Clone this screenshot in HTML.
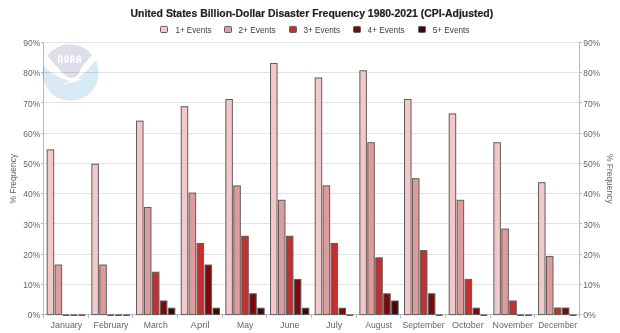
<!DOCTYPE html>
<html><head><meta charset="utf-8">
<style>
html,body{margin:0;padding:0;background:#fff;}
body{width:620px;height:333px;overflow:hidden;}
svg{display:block;font-family:"Liberation Sans",sans-serif;}
</style></head><body>
<svg width="620" height="333" viewBox="0 0 620 333">
<rect x="0" y="0" width="620" height="333" fill="#fff"/>
<line x1="43.5" y1="284.5" x2="579.5" y2="284.5" stroke="#e3e3e3" stroke-width="1"/>
<line x1="43.5" y1="254.5" x2="579.5" y2="254.5" stroke="#e3e3e3" stroke-width="1"/>
<line x1="43.5" y1="223.5" x2="579.5" y2="223.5" stroke="#e3e3e3" stroke-width="1"/>
<line x1="43.5" y1="193.5" x2="579.5" y2="193.5" stroke="#e3e3e3" stroke-width="1"/>
<line x1="43.5" y1="163.5" x2="579.5" y2="163.5" stroke="#e3e3e3" stroke-width="1"/>
<line x1="43.5" y1="133.5" x2="579.5" y2="133.5" stroke="#e3e3e3" stroke-width="1"/>
<line x1="43.5" y1="102.5" x2="579.5" y2="102.5" stroke="#e3e3e3" stroke-width="1"/>
<line x1="43.5" y1="72.5" x2="579.5" y2="72.5" stroke="#e3e3e3" stroke-width="1"/>
<line x1="43.5" y1="42.5" x2="579.5" y2="42.5" stroke="#e3e3e3" stroke-width="1"/>
<line x1="43.5" y1="42.5" x2="43.5" y2="317.5" stroke="#b9b9b9" stroke-width="1"/>
<line x1="579.5" y1="42.5" x2="579.5" y2="314.5" stroke="#b9b9b9" stroke-width="1"/>
<line x1="43.5" y1="314.5" x2="579.5" y2="314.5" stroke="#b9b9b9" stroke-width="1"/>
<line x1="41" y1="314.5" x2="43.5" y2="314.5" stroke="#b9b9b9" stroke-width="1"/>
<line x1="579.5" y1="314.5" x2="582" y2="314.5" stroke="#b9b9b9" stroke-width="1"/>
<line x1="41" y1="284.5" x2="43.5" y2="284.5" stroke="#b9b9b9" stroke-width="1"/>
<line x1="579.5" y1="284.5" x2="582" y2="284.5" stroke="#b9b9b9" stroke-width="1"/>
<line x1="41" y1="254.5" x2="43.5" y2="254.5" stroke="#b9b9b9" stroke-width="1"/>
<line x1="579.5" y1="254.5" x2="582" y2="254.5" stroke="#b9b9b9" stroke-width="1"/>
<line x1="41" y1="223.5" x2="43.5" y2="223.5" stroke="#b9b9b9" stroke-width="1"/>
<line x1="579.5" y1="223.5" x2="582" y2="223.5" stroke="#b9b9b9" stroke-width="1"/>
<line x1="41" y1="193.5" x2="43.5" y2="193.5" stroke="#b9b9b9" stroke-width="1"/>
<line x1="579.5" y1="193.5" x2="582" y2="193.5" stroke="#b9b9b9" stroke-width="1"/>
<line x1="41" y1="163.5" x2="43.5" y2="163.5" stroke="#b9b9b9" stroke-width="1"/>
<line x1="579.5" y1="163.5" x2="582" y2="163.5" stroke="#b9b9b9" stroke-width="1"/>
<line x1="41" y1="133.5" x2="43.5" y2="133.5" stroke="#b9b9b9" stroke-width="1"/>
<line x1="579.5" y1="133.5" x2="582" y2="133.5" stroke="#b9b9b9" stroke-width="1"/>
<line x1="41" y1="102.5" x2="43.5" y2="102.5" stroke="#b9b9b9" stroke-width="1"/>
<line x1="579.5" y1="102.5" x2="582" y2="102.5" stroke="#b9b9b9" stroke-width="1"/>
<line x1="41" y1="72.5" x2="43.5" y2="72.5" stroke="#b9b9b9" stroke-width="1"/>
<line x1="579.5" y1="72.5" x2="582" y2="72.5" stroke="#b9b9b9" stroke-width="1"/>
<line x1="41" y1="42.5" x2="43.5" y2="42.5" stroke="#b9b9b9" stroke-width="1"/>
<line x1="579.5" y1="42.5" x2="582" y2="42.5" stroke="#b9b9b9" stroke-width="1"/>
<line x1="43.5" y1="314.5" x2="43.5" y2="318" stroke="#b9b9b9" stroke-width="1"/>
<line x1="88.5" y1="314.5" x2="88.5" y2="318" stroke="#b9b9b9" stroke-width="1"/>
<line x1="132.5" y1="314.5" x2="132.5" y2="318" stroke="#b9b9b9" stroke-width="1"/>
<line x1="177.5" y1="314.5" x2="177.5" y2="318" stroke="#b9b9b9" stroke-width="1"/>
<line x1="222.5" y1="314.5" x2="222.5" y2="318" stroke="#b9b9b9" stroke-width="1"/>
<line x1="266.5" y1="314.5" x2="266.5" y2="318" stroke="#b9b9b9" stroke-width="1"/>
<line x1="311.5" y1="314.5" x2="311.5" y2="318" stroke="#b9b9b9" stroke-width="1"/>
<line x1="356.5" y1="314.5" x2="356.5" y2="318" stroke="#b9b9b9" stroke-width="1"/>
<line x1="400.5" y1="314.5" x2="400.5" y2="318" stroke="#b9b9b9" stroke-width="1"/>
<line x1="445.5" y1="314.5" x2="445.5" y2="318" stroke="#b9b9b9" stroke-width="1"/>
<line x1="490.5" y1="314.5" x2="490.5" y2="318" stroke="#b9b9b9" stroke-width="1"/>
<line x1="534.5" y1="314.5" x2="534.5" y2="318" stroke="#b9b9b9" stroke-width="1"/>
<line x1="579.5" y1="314.5" x2="579.5" y2="318" stroke="#b9b9b9" stroke-width="1"/>
<defs><clipPath id="lc"><circle cx="70.6" cy="72.9" r="28.1"/></clipPath></defs>
<g id="logo" style="mix-blend-mode:multiply">
<path clip-path="url(#lc)" fill="#d7eaf6" d="M20,64.4 L42.8,64.4 C46,68 49,71 53,73.8 C58,77 64,79.5 69.8,81.1 C67,82.3 64,83.5 61.4,84.4 C72,83 78,80.5 82.6,79 C81,78.6 79,78.5 77.2,78.5 C80,75.5 82,74.5 84.9,72.2 C88,69.5 90,66.5 91.6,65 C93,63.5 94.5,62 95.7,61 L120,61 L120,120 L20,120 Z"/>
<path fill="#dcdee9" d="M47.2,55.8 A28.1,28.1 0 0 1 92.2,55.3 C88.5,59 84,63.5 82.2,66.8 C80.5,70 79.5,72.5 78,74.5 C76.5,76.7 74.5,78 71.3,78 C68,78 65,75.5 61.5,72 C57.5,67.5 51,60 47.2,55.8 Z"/>
<g fill="none" stroke="#fff" stroke-width="1.5">
<path d="M58.8,62.9 V57.4 Q58.8,56 60.3,56 Q61.8,56 61.8,57.4 V62.9"/>
<rect x="65.1" y="56" width="2.8" height="6" rx="1"/>
<path d="M70.9,62.9 V57.4 Q70.9,56 72.4,56 Q73.9,56 73.9,57.4 V62.9 M70.9,59.8 H73.9"/>
<path d="M77.2,62.9 V57.4 Q77.2,56 78.7,56 Q80.2,56 80.2,57.4 V62.9 M77.2,59.8 H80.2"/>
</g>
</g>
<rect x="47.20" y="149.90" width="6.50" height="164.70" fill="#f2c8c9" stroke="#5e5e5e" stroke-width="1"/>
<rect x="55.15" y="265.03" width="6.50" height="49.57" fill="#df9a9b" stroke="#5e5e5e" stroke-width="1"/>
<rect x="91.87" y="164.29" width="6.50" height="150.31" fill="#f2c8c9" stroke="#5e5e5e" stroke-width="1"/>
<rect x="99.82" y="265.03" width="6.50" height="49.57" fill="#df9a9b" stroke="#5e5e5e" stroke-width="1"/>
<rect x="136.53" y="121.12" width="6.50" height="193.48" fill="#f2c8c9" stroke="#5e5e5e" stroke-width="1"/>
<rect x="144.48" y="207.46" width="6.50" height="107.14" fill="#df9a9b" stroke="#5e5e5e" stroke-width="1"/>
<rect x="152.43" y="272.23" width="6.50" height="42.37" fill="#c3302f" stroke="#5e5e5e" stroke-width="1"/>
<rect x="160.38" y="301.01" width="6.50" height="13.59" fill="#7c0a0c" stroke="#5e5e5e" stroke-width="1"/>
<rect x="168.33" y="308.20" width="6.50" height="6.40" fill="#400708" stroke="#5e5e5e" stroke-width="1"/>
<rect x="181.20" y="106.72" width="6.50" height="207.88" fill="#f2c8c9" stroke="#5e5e5e" stroke-width="1"/>
<rect x="189.15" y="193.07" width="6.50" height="121.53" fill="#df9a9b" stroke="#5e5e5e" stroke-width="1"/>
<rect x="197.10" y="243.44" width="6.50" height="71.16" fill="#c3302f" stroke="#5e5e5e" stroke-width="1"/>
<rect x="205.05" y="265.03" width="6.50" height="49.57" fill="#7c0a0c" stroke="#5e5e5e" stroke-width="1"/>
<rect x="213.00" y="308.20" width="6.50" height="6.40" fill="#400708" stroke="#5e5e5e" stroke-width="1"/>
<rect x="225.87" y="99.53" width="6.50" height="215.07" fill="#f2c8c9" stroke="#5e5e5e" stroke-width="1"/>
<rect x="233.82" y="185.88" width="6.50" height="128.72" fill="#df9a9b" stroke="#5e5e5e" stroke-width="1"/>
<rect x="241.77" y="236.25" width="6.50" height="78.35" fill="#c3302f" stroke="#5e5e5e" stroke-width="1"/>
<rect x="249.72" y="293.81" width="6.50" height="20.79" fill="#7c0a0c" stroke="#5e5e5e" stroke-width="1"/>
<rect x="257.67" y="308.20" width="6.50" height="6.40" fill="#400708" stroke="#5e5e5e" stroke-width="1"/>
<rect x="270.53" y="63.55" width="6.50" height="251.05" fill="#f2c8c9" stroke="#5e5e5e" stroke-width="1"/>
<rect x="278.48" y="200.27" width="6.50" height="114.33" fill="#df9a9b" stroke="#5e5e5e" stroke-width="1"/>
<rect x="286.43" y="236.25" width="6.50" height="78.35" fill="#c3302f" stroke="#5e5e5e" stroke-width="1"/>
<rect x="294.38" y="279.42" width="6.50" height="35.18" fill="#7c0a0c" stroke="#5e5e5e" stroke-width="1"/>
<rect x="302.33" y="308.20" width="6.50" height="6.40" fill="#400708" stroke="#5e5e5e" stroke-width="1"/>
<rect x="315.20" y="77.94" width="6.50" height="236.66" fill="#f2c8c9" stroke="#5e5e5e" stroke-width="1"/>
<rect x="323.15" y="185.88" width="6.50" height="128.72" fill="#df9a9b" stroke="#5e5e5e" stroke-width="1"/>
<rect x="331.10" y="243.44" width="6.50" height="71.16" fill="#c3302f" stroke="#5e5e5e" stroke-width="1"/>
<rect x="339.05" y="308.20" width="6.50" height="6.40" fill="#7c0a0c" stroke="#5e5e5e" stroke-width="1"/>
<rect x="359.87" y="70.75" width="6.50" height="243.85" fill="#f2c8c9" stroke="#5e5e5e" stroke-width="1"/>
<rect x="367.82" y="142.70" width="6.50" height="171.90" fill="#df9a9b" stroke="#5e5e5e" stroke-width="1"/>
<rect x="375.77" y="257.83" width="6.50" height="56.77" fill="#c3302f" stroke="#5e5e5e" stroke-width="1"/>
<rect x="383.72" y="293.81" width="6.50" height="20.79" fill="#7c0a0c" stroke="#5e5e5e" stroke-width="1"/>
<rect x="391.67" y="301.01" width="6.50" height="13.59" fill="#400708" stroke="#5e5e5e" stroke-width="1"/>
<rect x="404.53" y="99.53" width="6.50" height="215.07" fill="#f2c8c9" stroke="#5e5e5e" stroke-width="1"/>
<rect x="412.48" y="178.68" width="6.50" height="135.92" fill="#df9a9b" stroke="#5e5e5e" stroke-width="1"/>
<rect x="420.43" y="250.64" width="6.50" height="63.96" fill="#c3302f" stroke="#5e5e5e" stroke-width="1"/>
<rect x="428.38" y="293.81" width="6.50" height="20.79" fill="#7c0a0c" stroke="#5e5e5e" stroke-width="1"/>
<rect x="449.20" y="113.92" width="6.50" height="200.68" fill="#f2c8c9" stroke="#5e5e5e" stroke-width="1"/>
<rect x="457.15" y="200.27" width="6.50" height="114.33" fill="#df9a9b" stroke="#5e5e5e" stroke-width="1"/>
<rect x="465.10" y="279.42" width="6.50" height="35.18" fill="#c3302f" stroke="#5e5e5e" stroke-width="1"/>
<rect x="473.05" y="308.20" width="6.50" height="6.40" fill="#7c0a0c" stroke="#5e5e5e" stroke-width="1"/>
<rect x="493.87" y="142.70" width="6.50" height="171.90" fill="#f2c8c9" stroke="#5e5e5e" stroke-width="1"/>
<rect x="501.82" y="229.05" width="6.50" height="85.55" fill="#df9a9b" stroke="#5e5e5e" stroke-width="1"/>
<rect x="509.77" y="301.01" width="6.50" height="13.59" fill="#c3302f" stroke="#5e5e5e" stroke-width="1"/>
<rect x="538.53" y="182.72" width="6.50" height="131.88" fill="#f2c8c9" stroke="#5e5e5e" stroke-width="1"/>
<rect x="546.48" y="256.43" width="6.50" height="58.17" fill="#df9a9b" stroke="#5e5e5e" stroke-width="1"/>
<rect x="554.43" y="308.03" width="6.50" height="6.57" fill="#c3302f" stroke="#5e5e5e" stroke-width="1"/>
<rect x="562.38" y="308.03" width="6.50" height="6.57" fill="#7c0a0c" stroke="#5e5e5e" stroke-width="1"/>
<rect x="62.60" y="314.5" width="6.70" height="1.4" fill="#4a4a4a"/>
<rect x="70.55" y="314.5" width="6.70" height="1.4" fill="#4a4a4a"/>
<rect x="78.50" y="314.5" width="6.70" height="1.4" fill="#4a4a4a"/>
<rect x="107.27" y="314.5" width="6.70" height="1.4" fill="#4a4a4a"/>
<rect x="115.22" y="314.5" width="6.70" height="1.4" fill="#4a4a4a"/>
<rect x="123.17" y="314.5" width="6.70" height="1.4" fill="#4a4a4a"/>
<rect x="346.50" y="314.5" width="6.70" height="1.4" fill="#4a4a4a"/>
<rect x="435.83" y="314.5" width="6.70" height="1.4" fill="#4a4a4a"/>
<rect x="480.50" y="314.5" width="6.70" height="1.4" fill="#4a4a4a"/>
<rect x="517.22" y="314.5" width="6.70" height="1.4" fill="#4a4a4a"/>
<rect x="525.17" y="314.5" width="6.70" height="1.4" fill="#4a4a4a"/>
<rect x="569.83" y="314.5" width="6.70" height="1.4" fill="#4a4a4a"/>
<text x="40.2" y="318.2" font-size="9" fill="#666" text-anchor="end" textLength="12.7" lengthAdjust="spacingAndGlyphs">0%</text>
<text x="583.2" y="318.2" font-size="9" fill="#666" textLength="12.7" lengthAdjust="spacingAndGlyphs">0%</text>
<text x="40.2" y="288.0" font-size="9" fill="#666" text-anchor="end" textLength="16.9" lengthAdjust="spacingAndGlyphs">10%</text>
<text x="583.2" y="288.0" font-size="9" fill="#666" textLength="16.9" lengthAdjust="spacingAndGlyphs">10%</text>
<text x="40.2" y="257.8" font-size="9" fill="#666" text-anchor="end" textLength="16.9" lengthAdjust="spacingAndGlyphs">20%</text>
<text x="583.2" y="257.8" font-size="9" fill="#666" textLength="16.9" lengthAdjust="spacingAndGlyphs">20%</text>
<text x="40.2" y="227.5" font-size="9" fill="#666" text-anchor="end" textLength="16.9" lengthAdjust="spacingAndGlyphs">30%</text>
<text x="583.2" y="227.5" font-size="9" fill="#666" textLength="16.9" lengthAdjust="spacingAndGlyphs">30%</text>
<text x="40.2" y="197.3" font-size="9" fill="#666" text-anchor="end" textLength="16.9" lengthAdjust="spacingAndGlyphs">40%</text>
<text x="583.2" y="197.3" font-size="9" fill="#666" textLength="16.9" lengthAdjust="spacingAndGlyphs">40%</text>
<text x="40.2" y="167.1" font-size="9" fill="#666" text-anchor="end" textLength="16.9" lengthAdjust="spacingAndGlyphs">50%</text>
<text x="583.2" y="167.1" font-size="9" fill="#666" textLength="16.9" lengthAdjust="spacingAndGlyphs">50%</text>
<text x="40.2" y="136.9" font-size="9" fill="#666" text-anchor="end" textLength="16.9" lengthAdjust="spacingAndGlyphs">60%</text>
<text x="583.2" y="136.9" font-size="9" fill="#666" textLength="16.9" lengthAdjust="spacingAndGlyphs">60%</text>
<text x="40.2" y="106.6" font-size="9" fill="#666" text-anchor="end" textLength="16.9" lengthAdjust="spacingAndGlyphs">70%</text>
<text x="583.2" y="106.6" font-size="9" fill="#666" textLength="16.9" lengthAdjust="spacingAndGlyphs">70%</text>
<text x="40.2" y="76.4" font-size="9" fill="#666" text-anchor="end" textLength="16.9" lengthAdjust="spacingAndGlyphs">80%</text>
<text x="583.2" y="76.4" font-size="9" fill="#666" textLength="16.9" lengthAdjust="spacingAndGlyphs">80%</text>
<text x="40.2" y="46.2" font-size="9" fill="#666" text-anchor="end" textLength="16.9" lengthAdjust="spacingAndGlyphs">90%</text>
<text x="583.2" y="46.2" font-size="9" fill="#666" textLength="16.9" lengthAdjust="spacingAndGlyphs">90%</text>
<text x="50.6" y="328.2" font-size="9" fill="#666" textLength="31.7" lengthAdjust="spacingAndGlyphs">January</text>
<text x="93.6" y="328.2" font-size="9" fill="#666" textLength="34.8" lengthAdjust="spacingAndGlyphs">February</text>
<text x="143.7" y="328.2" font-size="9" fill="#666" textLength="24.0" lengthAdjust="spacingAndGlyphs">March</text>
<text x="190.6" y="328.2" font-size="9" fill="#666" textLength="18.9" lengthAdjust="spacingAndGlyphs">April</text>
<text x="237.1" y="328.2" font-size="9" fill="#666" textLength="16.1" lengthAdjust="spacingAndGlyphs">May</text>
<text x="280.0" y="328.2" font-size="9" fill="#666" textLength="19.5" lengthAdjust="spacingAndGlyphs">June</text>
<text x="326.0" y="328.2" font-size="9" fill="#666" textLength="16.4" lengthAdjust="spacingAndGlyphs">July</text>
<text x="365.3" y="328.2" font-size="9" fill="#666" textLength="26.8" lengthAdjust="spacingAndGlyphs">August</text>
<text x="402.4" y="328.2" font-size="9" fill="#666" textLength="42.3" lengthAdjust="spacingAndGlyphs">September</text>
<text x="452.0" y="328.2" font-size="9" fill="#666" textLength="31.7" lengthAdjust="spacingAndGlyphs">October</text>
<text x="492.6" y="328.2" font-size="9" fill="#666" textLength="40.3" lengthAdjust="spacingAndGlyphs">November</text>
<text x="538.2" y="328.2" font-size="9" fill="#666" textLength="38.9" lengthAdjust="spacingAndGlyphs">December</text>
<text transform="translate(16.2,203.6) rotate(-90)" font-size="9" fill="#666" textLength="49.7" lengthAdjust="spacingAndGlyphs">% Frequency</text>
<text transform="translate(607.1,153.9) rotate(90)" font-size="9" fill="#666" textLength="49.7" lengthAdjust="spacingAndGlyphs">% Frequency</text>
<text x="130.5" y="16.6" font-size="11" font-weight="bold" fill="#222" stroke="#222" stroke-width="0.2" textLength="362.7" lengthAdjust="spacingAndGlyphs">United States Billion-Dollar Disaster Frequency 1980-2021 (CPI-Adjusted)</text>
<rect x="160.5" y="26.4" width="7" height="6.1" rx="1" fill="#f2c8c9" stroke="#5e5e5e" stroke-width="1"/>
<text x="175.4" y="32.9" font-size="9" fill="#3d3d3d" textLength="36.2" lengthAdjust="spacingAndGlyphs">1+ Events</text>
<rect x="224.5" y="26.4" width="7" height="6.1" rx="1" fill="#df9a9b" stroke="#5e5e5e" stroke-width="1"/>
<text x="238.5" y="32.9" font-size="9" fill="#3d3d3d" textLength="37.2" lengthAdjust="spacingAndGlyphs">2+ Events</text>
<rect x="289.5" y="26.4" width="7" height="6.1" rx="1" fill="#c3302f" stroke="#5e5e5e" stroke-width="1"/>
<text x="303.4" y="32.9" font-size="9" fill="#3d3d3d" textLength="36.8" lengthAdjust="spacingAndGlyphs">3+ Events</text>
<rect x="353.5" y="26.4" width="7" height="6.1" rx="1" fill="#7c0a0c" stroke="#5e5e5e" stroke-width="1"/>
<text x="367.6" y="32.9" font-size="9" fill="#3d3d3d" textLength="37.0" lengthAdjust="spacingAndGlyphs">4+ Events</text>
<rect x="418.5" y="26.4" width="7" height="6.1" rx="1" fill="#400708" stroke="#5e5e5e" stroke-width="1"/>
<text x="432.7" y="32.9" font-size="9" fill="#3d3d3d" textLength="36.8" lengthAdjust="spacingAndGlyphs">5+ Events</text>
</svg>
</body></html>
